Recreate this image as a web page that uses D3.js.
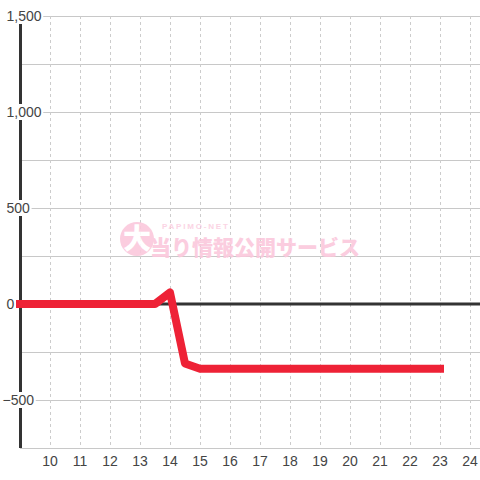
<!DOCTYPE html>
<html>
<head>
<meta charset="utf-8">
<script src="https://cdn.jsdelivr.net/npm/d3@7"></script>
<style>
  body { margin: 0; background: #fff; }
  svg { display: block; font-family: "Liberation Sans", Arial, sans-serif; }
</style>
</head>
<body>
<svg width="480" height="480"></svg>
<script>
let svg = d3.select("svg");

let hours = [9, 9.5, 10, 10.5, 11, 11.5, 12, 12.5, 13, 13.5,
  14, 14.5, 15, 15.5, 16, 16.5, 17, 17.5, 18, 18.5, 19, 19.5,
  20, 20.5, 21, 21.5, 22, 22.5, 23];
let values = [0, 0, 0, 0, 0, 0, 0, 0, 0, 0,
  60, -310, -337, -337, -337, -337, -337, -337, -337, -337, -337, -337,
  -337, -337, -337, -337, -337, -337, -337];
let x_ticks = [10, 11, 12, 13, 14, 15, 16, 17, 18, 19, 20, 21, 22, 23, 24];
let y_grid = [1500, 1250, 1000, 750, 500, 250, -250, -500, -750];
let y_labels = [1500, 1000, 500, 0, -500];

let x_scale = d3.scaleLinear().domain([9, 24]).range([20, 470]);
let y_scale = d3.scaleLinear().domain([-750, 1500]).range([448, 16]);

// horizontal grid
svg.append("g").selectAll("line")
  .data(y_grid)
  .enter().append("line")
    .attr("x1", x_scale(9)).attr("x2", 480)
    .attr("y1", (d) => y_scale(d) + 0.5).attr("y2", (d) => y_scale(d) + 0.5)
    .attr("stroke", "#c8c8c8").attr("stroke-width", 1);

// vertical dotted grid
svg.append("g").selectAll("line")
  .data(x_ticks)
  .enter().append("line")
    .attr("x1", (d) => x_scale(d) + 0.5).attr("x2", (d) => x_scale(d) + 0.5)
    .attr("y1", y_scale(1500)).attr("y2", y_scale(-750))
    .attr("stroke", "#cccccc").attr("stroke-width", 1)
    .attr("stroke-dasharray", "3,3");

// watermark
let wm = svg.append("g").attr("opacity", 0.9);
wm.append("circle").attr("cx", 137).attr("cy", 239).attr("r", 17).attr("fill", "#fbc8dc");
wm.append("text").attr("x", 137).attr("y", 249).attr("text-anchor", "middle")
  .attr("fill", "#fff").style("font-size", "28px").style("font-weight", 900)
  .style("font-family", "'Noto Sans CJK JP'").text("大");
wm.append("text").attr("x", 162).attr("y", 229)
  .attr("fill", "#fbd0e2").style("font-size", "8px").style("font-weight", "bold")
  .style("letter-spacing", "1.8px").text("PAPIMO-NET");
wm.append("text").attr("x", 150).attr("y", 255)
  .attr("fill", "#fbc8dc").style("font-size", "21px").style("font-weight", 900)
  .style("font-family", "'Noto Sans CJK JP'").text("当り情報公開サービス");

// zero line
svg.append("line")
  .attr("x1", x_scale(9)).attr("x2", 480)
  .attr("y1", y_scale(0)).attr("y2", y_scale(0))
  .attr("stroke", "#333").attr("stroke-width", 3);

// y axis line
svg.append("line")
  .attr("x1", x_scale(9) + 0.5).attr("x2", x_scale(9) + 0.5)
  .attr("y1", y_scale(1500)).attr("y2", y_scale(-750))
  .attr("stroke", "#333").attr("stroke-width", 3);

// data line
let line = d3.line()
  .x((d, i) => x_scale(hours[i]))
  .y((d) => y_scale(d));
svg.append("path")
  .datum(values)
  .attr("d", line)
  .attr("fill", "none")
  .attr("stroke", "#ee2236")
  .attr("stroke-width", 8)
  .attr("stroke-linecap", "square")
  .attr("stroke-linejoin", "round");

// y labels with white boxes
let fmt = d3.format(",");
let ylab = svg.append("g").selectAll("g")
  .data(y_labels)
  .enter().append("g");
ylab.append("rect").attr("fill", "#fff");
ylab.append("text")
  .attr("x", (d) => d < 0 ? 2.5 : 6.5)
  .attr("y", (d) => y_scale(d) + 5)
  .attr("fill", "#444")
  .style("font-size", "14px")
  .text((d) => fmt(d));
ylab.each(function() {
  let g = d3.select(this);
  let b = g.select("text").node().getBBox();
  g.select("rect")
    .attr("x", b.x - 1).attr("y", y_scale(g.datum()) - 8)
    .attr("width", b.width + 2.5).attr("height", 16);
});

// x labels
svg.append("g").selectAll("text")
  .data(x_ticks)
  .enter().append("text")
    .attr("x", (d) => x_scale(d))
    .attr("y", 466)
    .attr("text-anchor", "middle")
    .attr("fill", "#444")
    .style("font-size", "14px")
    .text((d) => d);
</script>
</body>
</html>
